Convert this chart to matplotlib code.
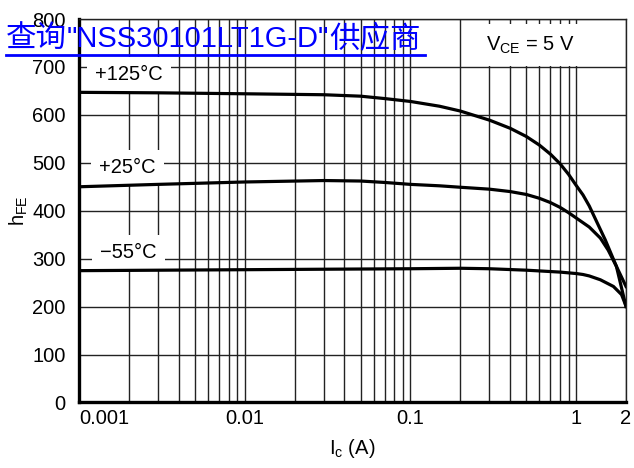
import matplotlib
matplotlib.use("Agg")
import matplotlib.pyplot as plt
from matplotlib.lines import Line2D
from matplotlib.ticker import LogLocator, NullFormatter

plt.rcParams['font.family'] = ['Liberation Sans', 'DejaVu Sans']
plt.rcParams['mathtext.fontset'] = 'custom'
plt.rcParams['mathtext.rm'] = 'Liberation Sans'
plt.rcParams['mathtext.it'] = 'Liberation Sans'
plt.rcParams['mathtext.default'] = 'regular'

# hFE vs collector current
ic_125 = [0.001, 0.003, 0.01, 0.03, 0.05, 0.07, 0.1, 0.15, 0.2, 0.3, 0.4,
          0.5, 0.6, 0.7, 0.8, 0.9, 1.0, 1.1, 1.2, 1.5, 1.75, 2.0]
hfe_125 = [647, 646, 644, 642, 639, 634, 628, 618, 608, 589, 572,
           555, 537, 518, 498, 476, 453, 433, 410, 339, 284, 200]

ic_25 = [0.001, 0.003, 0.01, 0.03, 0.05, 0.07, 0.1, 0.15, 0.2, 0.3, 0.4,
         0.5, 0.6, 0.7, 0.8, 0.9, 1.0, 1.2, 1.4, 1.56, 1.75, 2.0]
hfe_25 = [450, 455, 460, 463, 462, 459, 455, 452, 449, 445, 440,
          434, 426, 417, 407, 396, 385, 366, 343, 318, 284, 242]

ic_m55 = [0.001, 0.01, 0.03, 0.1, 0.2, 0.3, 0.5, 0.8, 1.0, 1.1, 1.2, 1.4, 1.68, 1.88, 2.0]
hfe_m55 = [275, 277, 278, 279, 280, 279, 276, 272, 269, 267, 264, 256, 242, 225, 201]

x_ticks = [0.001, 0.01, 0.1, 1, 2]
x_tick_labels = ['0.001', '0.01', '0.1', '1', '2']
y_ticks = [0, 100, 200, 300, 400, 500, 600, 700, 800]

# overlay text pieces (CJK and latin parts sized separately)
link_parts = ['查询', '"NSS30101LT1G-D"', '供应商']

fig = plt.figure(figsize=(6.34, 4.68), dpi=100)
ax = fig.add_axes([0.1246, 0.140, 0.8628, 0.8194])

ax.set_xscale('log')
ax.set_xlim(0.001, 2)
ax.set_ylim(0, 800)

ax.xaxis.set_minor_locator(LogLocator(base=10, subs=range(2, 10)))
ax.xaxis.set_minor_formatter(NullFormatter())
ax.set_xticks(x_ticks, x_tick_labels)
ax.set_yticks(y_ticks)
ax.get_xticklabels()[0].set_horizontalalignment('left')

ax.tick_params(which='both', length=0, labelsize=14.5)
ax.tick_params(axis='x', pad=5)
ax.tick_params(axis='y', pad=9.5)

ax.grid(True, which='major', axis='both', color='#222222', lw=1.0)
ax.grid(True, which='minor', axis='x', color='#222222', lw=1.0)
ax.set_axisbelow(True)

for s in ['left', 'bottom']:
    ax.spines[s].set_linewidth(2.4)
for s in ['top', 'right']:
    ax.spines[s].set_linewidth(1.0)
    ax.spines[s].set_color('#222222')

ax.plot(ic_125, hfe_125, color='black', lw=2.3, zorder=4)
ax.plot(ic_25, hfe_25, color='black', lw=2.3, zorder=4)
ax.plot(ic_m55, hfe_m55, color='black', lw=2.3, zorder=4)

box = dict(boxstyle='square,pad=0.4', fc='white', ec='none')
ax.text(0.002, 684, '+125°C', fontsize=14.5, ha='center', va='center', bbox=box, zorder=3)
ax.text(0.00196, 490, '+25°C', fontsize=14.5, ha='center', va='center', bbox=box, zorder=3)
ax.text(0.00198, 312, '\u221255°C', fontsize=14.5, ha='center', va='center', bbox=box, zorder=3)
ax.text(0.53, 746, '$V_{CE}$ = 5 V', fontsize=14.5, ha='center', va='center',
        bbox=dict(boxstyle='square,pad=0.5', fc='white', ec='none'), zorder=3)

ax.set_xlabel('$I_c$ (A)', fontsize=14.5, labelpad=6)
ax.set_ylabel('$h_{FE}$', fontsize=14.5, labelpad=2)

# blue link text overlaid on the top of the page
renderer = fig.canvas.get_renderer()
x_px = 6
base_y = 1 - 47 / 468
for part in link_parts:
    if part.startswith('"'):
        fam, size = ['Liberation Sans', 'DejaVu Sans'], 21
    else:
        fam, size = ['Noto Sans CJK SC', 'DejaVu Sans'], 22
    t = fig.text(x_px / 634, base_y, part, color='#0000ff', fontsize=size,
                 family=fam, ha='left', va='baseline')
    x_px += t.get_window_extent(renderer).width
fig.add_artist(Line2D([6 / 634, (x_px + 4) / 634], [1 - 55 / 468, 1 - 55 / 468],
                      color='#0000ff', lw=2.0, transform=fig.transFigure))

fig.savefig('out.png', dpi=100)
